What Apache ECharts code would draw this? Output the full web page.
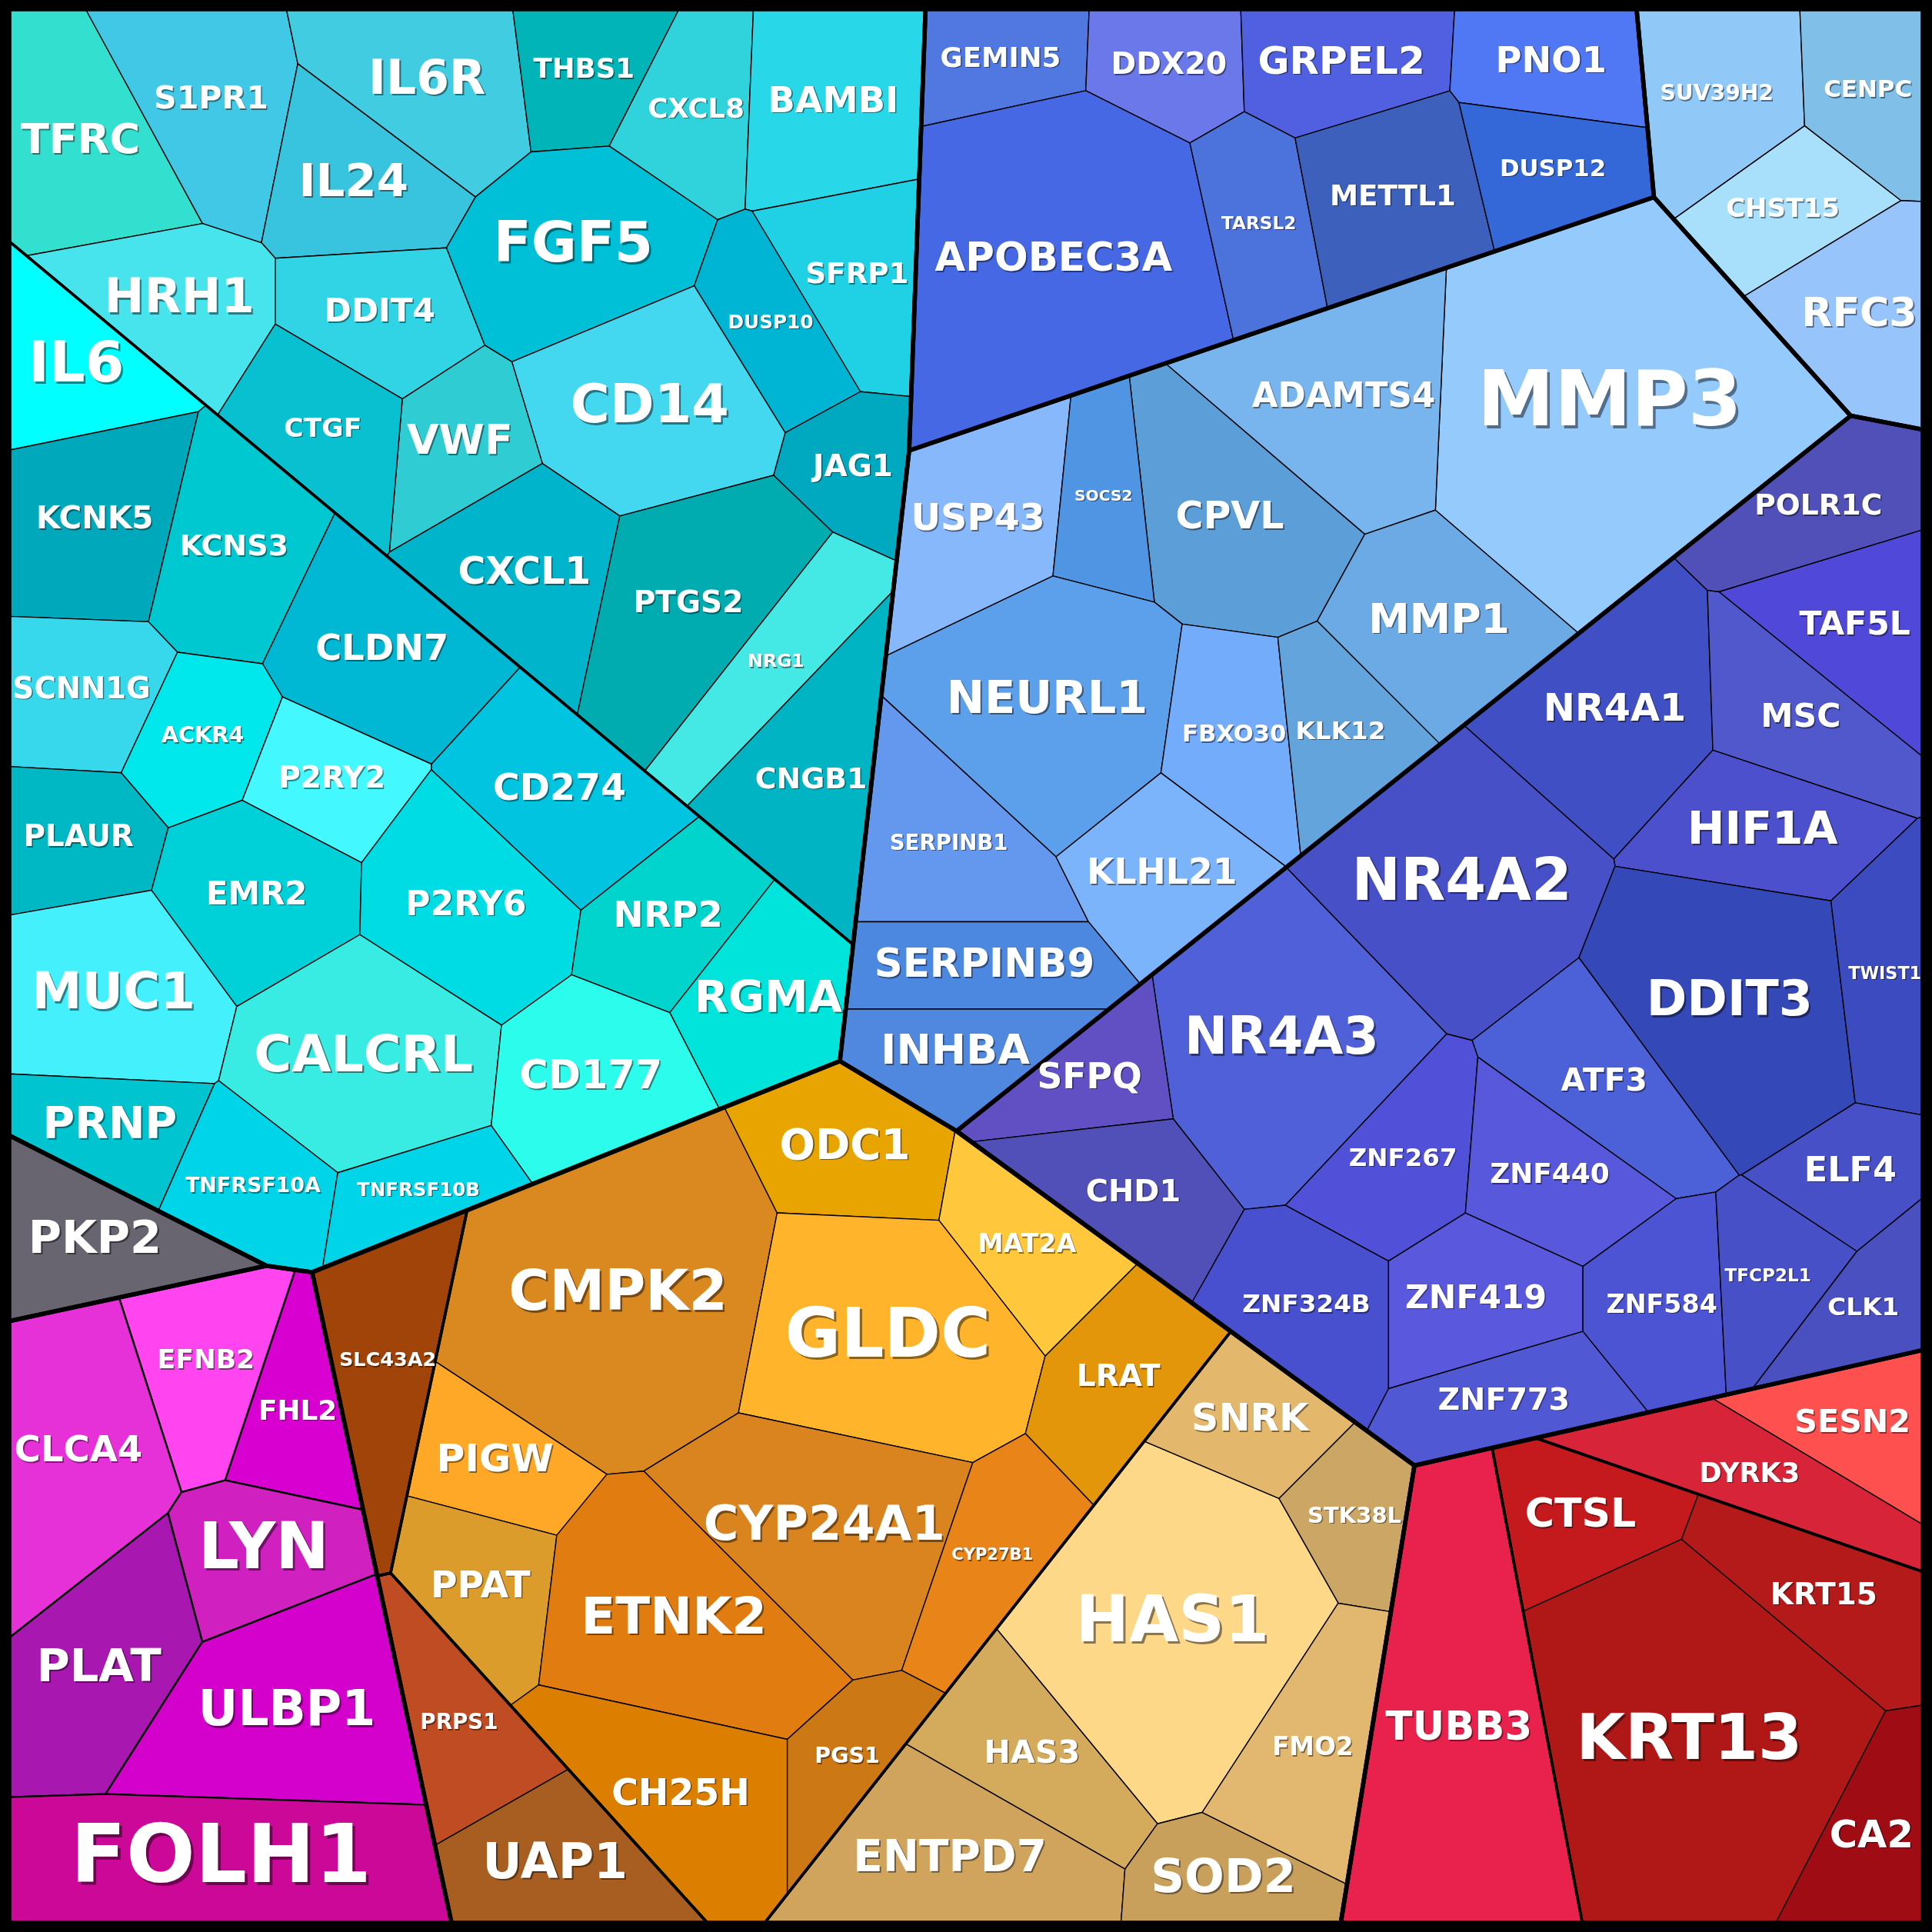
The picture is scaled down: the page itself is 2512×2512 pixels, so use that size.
<!DOCTYPE html>
<html><head><meta charset="utf-8">
<script src="https://cdn.jsdelivr.net/npm/echarts@6/dist/echarts.min.js"></script>
<style>html,body{margin:0;padding:0;background:#000}#c{width:2512px;height:2512px}</style>
</head><body><div id="c"></div><script>
// ---------------- data ----------------
const genes = [
'TFRC','S1PR1','IL6R','THBS1','CXCL8','BAMBI','SFRP1','IL24','HRH1','FGF5','DUSP10','JAG1','CD14','DDIT4','VWF','CTGF','CXCL1','PTGS2','NRG1','CNGB1',
'IL6','KCNK5','KCNS3','SCNN1G','CLDN7','ACKR4','P2RY2','CD274','PLAUR','EMR2','P2RY6','NRP2','MUC1','RGMA','CALCRL','CD177','PRNP','TNFRSF10A','TNFRSF10B',
'PKP2',
'EFNB2','FHL2','CLCA4','LYN','PLAT','ULBP1','FOLH1',
'SLC43A2','PRPS1','UAP1',
'CMPK2','ODC1','MAT2A','GLDC','LRAT','PIGW','CYP24A1','CYP27B1','PPAT','ETNK2','CH25H','PGS1',
'SNRK','STK38L','HAS1','FMO2','HAS3','ENTPD7','SOD2',
'GEMIN5','DDX20','GRPEL2','PNO1','APOBEC3A','TARSL2','METTL1','DUSP12',
'SUV39H2','CENPC','CHST15','RFC3',
'MMP3','ADAMTS4','CPVL','USP43','SOCS2','MMP1','NEURL1','FBXO30','KLK12','SERPINB1','KLHL21','SERPINB9','INHBA',
'POLR1C','TAF5L','NR4A1','MSC','HIF1A','NR4A2','DDIT3','TWIST1','NR4A3','SFPQ','ATF3','ZNF267','ZNF440','ELF4','CHD1','ZNF324B','ZNF419','ZNF584','TFCP2L1','CLK1','ZNF773',
'TUBB3','CTSL','KRT15','KRT13','CA2','DYRK3','SESN2'];

// relative cell size of every gene
const cellArea = [
21.0,20.0,19.4,11.1,13.4,21.0,14.6,16.0,17.0,25.0,11.6,10.2,26.3,14.3,12.2,14.7,19.7,26.4,14.3,21.0,
13.7,19.9,18.9,14.1,22.2,12.0,11.3,20.5,12.4,18.3,21.9,14.3,23.2,16.9,29.0,20.0,11.7,13.4,9.7,
15.6,
15.0,11.4,25.8,14.5,22.8,30.5,34.8,
18.2,14.2,16.6,
55.3,16.7,13.4,36.7,16.5,12.2,32.1,14.9,13.9,32.3,24.2,10.6,
11.8,10.4,48.8,17.9,16.4,24.8,11.7,
10.6,11.3,14.7,13.0,55.0,13.4,19.0,12.6,
17.4,12.6,12.3,16.4,
73.0,27.4,25.5,19.8,10.6,21.6,34.7,15.0,13.0,19.2,16.4,15.2,12.6,
15.6,15.1,26.7,15.8,17.0,37.4,36.0,13.4,38.5,11.1,17.7,15.3,14.9,10.6,16.0,17.7,15.4,15.2,11.4,9.6,13.6,
48.6,13.8,16.7,62.0,12.8,16.0,12.0];

// label score (drives label size)
const labelScore = [
33.8,25.7,38.4,22.2,22.1,28.9,23.3,37.0,38.9,45.0,15.4,24.4,43.6,26.4,33.6,21.6,30.5,24.4,14.7,23.6,
45.7,25.2,23.7,24.1,28.9,17.9,24.3,29.6,24.2,26.1,27.6,29.3,41.1,35.7,41.5,31.8,35.5,16.8,15.3,
36.8,
21.6,22.4,29.1,51.9,36.8,39.6,65.9,
15.9,17.3,39.5,
45.2,34.1,20.7,55.3,24.4,31.4,38.8,13.1,29.4,41.1,29.5,17.8,
30.6,18.1,51.9,20.5,25.8,35.2,38.1,
22.2,24.6,31.3,28.9,32.1,14.5,23.3,19.2,
17.6,19.3,21.1,32.6,
62.8,27.2,30.6,29.8,12.6,33.6,36.8,19.1,20.4,17.2,28.5,32.1,33.8,
23.5,26.5,30.7,26.5,36.3,47.4,39.6,13.9,41.9,28.5,25.4,20.3,22.4,27.8,24.9,20.4,26.5,20.8,14.4,20.4,24.7,
32.0,32.5,24.3,51.4,30.9,21.9,25.7];

const cellColor = [
'#33E0D0','#40C8E6','#42CCE2','#00B4B8','#30D2DC','#28D8E8','#20D0E4','#38C4DE','#48E4EE','#00C0D8','#00B4D4','#00A8C0','#44D8F0','#30D4E4','#30CCD4','#08C0D0','#00B4CC','#00ACB0','#44E8E4','#00B4C4',
'#00FFFF','#00A8BC','#00C8D0','#38D8EC','#00B8D4','#00E8EC','#44F8FF','#00C4E0','#00B8C4','#00D0D8','#00DCE4','#00D4CC','#44F0FC','#00E4DC','#38ECE4','#2CFCEC','#00C4D0','#00D4E8','#00D4E8',
'#686470',
'#FF44F0','#D800D0','#E630D8','#D020C0','#A818B0','#D400CC','#CC0898',
'#A0440A','#C04C24','#A85E20',
'#DA8820','#E8A400','#FFC83C','#FFB42C','#E4960A','#FFA828','#DA8420','#E88418','#DC9C2C','#E07C10','#DC7E00','#CC7814',
'#E4B86C','#CCA664','#FCD888','#E2B870','#D4AA5C','#D0A45C','#C8A05C',
'#5078E0','#6A78EA','#5060E0','#5078F4','#4668E4','#4C72DC','#3C60BC','#3468D8',
'#90C8F8','#80C0E8','#A8E0FC','#98C4FC',
'#94CAFC','#78B4EE','#5C9ED8','#88B8FC','#5094E4','#6CAAE6','#5CA0EC','#74ACFC','#64A4DC','#6498EE','#7CB4FC','#4C88E0','#5088E0',
'#5050B8','#5048D8','#4050C4','#5058CC','#4C50CC','#4850C8','#3448B8','#3C4CC0','#5060D8','#6050C4','#4C60D8','#5050D8','#5858DC','#4850C8','#5050B8','#4850D0','#5A58DC','#4C54D4','#4850C8','#4A50C0','#5058D4',
'#E8224C','#C41A1E','#B41A1A','#B01818','#A00C14','#D82438','#FF5050'];

function rep(name, n){ return new Array(n).fill(name); }
const subgroupOf = [].concat(
  rep('cyanA',20), rep('cyanB',19), rep('pkp2',1), rep('magenta',7),
  rep('slc',1), rep('prps',2), rep('orangeMain',12), rep('tan',7),
  rep('darkBlue',8), rep('lightA',4), rep('lightB',13), rep('indigo',21),
  rep('tubb',1), rep('krt',4), rep('dyrk',2));
const SUBGROUP_PARENT = {cyanA:'cyan',cyanB:'cyan',pkp2:'pkp2',magenta:'magenta',slc:'orange',prps:'orange',orangeMain:'orange',tan:'orange',darkBlue:'darkBlue',lightA:'lightA',lightB:'lightB',indigo:'indigo',tubb:'red',krt:'red',dyrk:'red'};
const TOP = ['cyan','pkp2','magenta','orange','darkBlue','lightA','lightB','indigo','red'];

// ---------------- layout sites of the Voronoi treemap (not data) ----------------
const topSiteX = [330,147,226,590,922,998,938,978,1118];
const topSiteY = [430,791,1158,1080,452,445,499,549,1165];
const subSite = {cyanA:[480,300],cyanB:[230,600],slc:[300,1120],prps:[361,1393],orangeMain:[594,1182],tan:[830,1368],tubb:[1180,1380],krt:[1380,1342],dyrk:[1429,1200]};
const seedX = [
89,177,345,462,560,680,705,300,115,475,630,690,525,310,375,257,430,570,617,689,
54,80,185,75,310,165,255,452,68,210,375,535,90,615,290,485,85,205,330,
78,
170,245,30,215,140,250,195,
310,372,445,
520,680,790,675,950,405,640,795,380,545,510,690,
1015,1095,945,1068,830,770,1000,
835,955,1100,1270,872,1030,1135,1260,
1395,1518,1452,1510,
1320,1100,1010,800,920,1165,880,985,1080,700,940,700,700,
1475,1506,1310,1455,1420,1185,1400,1525,1045,895,1305,1130,1255,1495,905,1065,1205,1335,1432,1800,1230,
1185,1290,1485,1380,1515,1440,1500];
const seedY = [
123,75,40,25,75,80,210,100,265,200,255,365,320,265,365,355,460,490,527,596,
297,425,450,555,510,597,632,640,680,718,722,745,806,808,855,875,912,965,985,
1005,
1115,1140,1160,1280,1300,1370,3000,
1100,1390,1518,
1020,940,960,1050,1120,1195,1215,1268,1290,1310,1470,1470,
1155,1235,1320,1400,1415,1520,1537,
45,50,45,55,215,180,160,130,
85,80,165,260,
325,315,420,418,430,505,585,600,590,780,660,860,940,
410,512,580,575,680,720,805,790,855,877,875,935,945,955,965,1055,1055,1055,1050,1330,1140,
1390,1232,1305,1430,1500,1220,1120];

// ---------------- power-diagram (Voronoi treemap) computation ----------------
const U = 1568, M = 7.5;
const container = [[M,M],[U-M,M],[U-M,U-M],[M,U-M]];

function polyArea(p){ let s=0; for(let k=0;k<p.length;k++){const a=p[k],b=p[(k+1)%p.length]; s+=a[0]*b[1]-b[0]*a[1];} return s/2; }
function polyCentroid(p){ let s=0,cx=0,cy=0; for(let k=0;k<p.length;k++){const a=p[k],b=p[(k+1)%p.length]; const cr=a[0]*b[1]-b[0]*a[1]; s+=cr; cx+=(a[0]+b[0])*cr; cy+=(a[1]+b[1])*cr;} if(Math.abs(s)<1e-9){let x=0,y=0;p.forEach(q=>{x+=q[0];y+=q[1];});return [x/p.length,y/p.length];} return [cx/(3*s), cy/(3*s)]; }

function clipTagged(poly,a,b,c,tag){
  const out=[]; const n=poly.length;
  for(let k=0;k<n;k++){
    const P=poly[k], Q=poly[(k+1)%n];
    const fp=a*P[0]+b*P[1]-c, fq=a*Q[0]+b*Q[1]-c;
    if(fp<=0){
      if(fq>0){
        if(fp===0){ out.push([P[0],P[1],tag]); }
        else { out.push(P); const t=fp/(fp-fq); out.push([P[0]+t*(Q[0]-P[0]),P[1]+t*(Q[1]-P[1]),tag]); }
      } else out.push(P);
    } else if(fq<0){
      const t=fp/(fp-fq); out.push([P[0]+t*(Q[0]-P[0]),P[1]+t*(Q[1]-P[1]),P[2]]);
    }
  }
  return out;
}
function powerCells(cont,S,W){
  const n=S.length, cells=[];
  for(let i=0;i<n;i++){
    let poly=cont.map(p=>[p[0],p[1],-1]);
    const xi=S[i][0], yi=S[i][1], ni=xi*xi+yi*yi;
    for(let j=0;j<n&&poly.length>=3;j++){
      if(j===i) continue;
      const xj=S[j][0], yj=S[j][1];
      poly=clipTagged(poly,2*(xj-xi),2*(yj-yi),(xj*xj+yj*yj)-ni-W[j]+W[i],j);
    }
    cells.push(poly.length>=3?poly:[]);
  }
  return cells;
}
// weights are fitted so that every cell reaches its share of the parent's area
function fitLevel(cont, vals, seeds, iters){
  const n=vals.length;
  if(n===1) return [cont.map(p=>[p[0],p[1]])];
  const A=Math.abs(polyArea(cont)); const tot=vals.reduce((s,v)=>s+v,0);
  const T=vals.map(v=>A*v/tot);
  const S=seeds.map(s=>[s[0],s[1]]); const W=new Array(n).fill(0);
  for(let it=0;it<iters;it++){
    const cells=powerCells(cont,S,W);
    const dW=new Array(n).fill(0);
    for(let i=0;i<n;i++){
      const poly=cells[i];
      if(poly.length<3){ dW[i]=0.3*T[i]; continue; }
      const ar=Math.abs(polyArea(poly));
      let D=0;
      for(let k=0;k<poly.length;k++){
        const P=poly[k], Q=poly[(k+1)%poly.length];
        if(P[2]>=0){ const j=P[2]; const L=Math.hypot(Q[0]-P[0],Q[1]-P[1]); const d=Math.hypot(S[j][0]-S[i][0],S[j][1]-S[i][1])||1; D+=L/(2*d); }
      }
      dW[i]=0.5*(T[i]-ar)/Math.max(D,0.05);
    }
    for(let i=0;i<n;i++) W[i]+=dW[i];
  }
  return powerCells(cont,S,W).map(p=>p.map(q=>[q[0],q[1]]));
}

const leafIdx={};
genes.forEach((g,i)=>{ (leafIdx[subgroupOf[i]]=leafIdx[subgroupOf[i]]||[]).push(i); });
const subNames=Object.keys(SUBGROUP_PARENT);
function sumArea(idxs){ return idxs.reduce((s,i)=>s+cellArea[i],0); }

const topVals=TOP.map(t=>sumArea(genes.map((g,i)=>i).filter(i=>SUBGROUP_PARENT[subgroupOf[i]]===t)));
const topCells=fitLevel(container, topVals, TOP.map((t,k)=>[topSiteX[k],topSiteY[k]]), 600);
const subCells={}; const subCount={};
TOP.forEach((t,ti)=>{
  const subs=subNames.filter(s=>SUBGROUP_PARENT[s]===t);
  subCount[t]=subs.length;
  const cells=fitLevel(topCells[ti], subs.map(s=>sumArea(leafIdx[s])), subs.map(s=>subSite[s]||[0,0]), 500);
  subs.forEach((s,k)=>{ subCells[s]=cells[k]; });
});
const leafCells=new Array(genes.length);
subNames.forEach(s=>{
  const idxs=leafIdx[s];
  const cells=fitLevel(subCells[s], idxs.map(i=>cellArea[i]), idxs.map(i=>[seedX[i],seedY[i]]), 700);
  idxs.forEach((i,k)=>{ leafCells[i]=cells[k]; });
});

const outlines=[];
subNames.forEach(s=>{ if(subCount[SUBGROUP_PARENT[s]]>1) outlines.push({poly:subCells[s], w:3.6}); });
TOP.forEach((t,ti)=>outlines.push({poly:topCells[ti], w:5.6}));

// ---------------- chart ----------------
const PX = 2512/U;
const chart=echarts.init(document.getElementById('c'),null,{renderer:'canvas',width:2512,height:2512});
chart.setOption({
  backgroundColor:'#000',
  animation:false,
  grid:{left:0,right:0,top:0,bottom:0},
  xAxis:{type:'value',min:0,max:U,show:false},
  yAxis:{type:'value',min:0,max:U,inverse:true,show:false},
  series:[
    {type:'custom',name:'cells',silent:true,z:1,data:genes.map((g,i)=>[i]),
     renderItem:(params,api)=>{
       const i=params.dataIndex; const poly=leafCells[i];
       if(!poly||poly.length<3) return null;
       return {type:'polygon',shape:{points:poly.map(p=>api.coord([p[0],p[1]]))},
         style:{fill:cellColor[i],stroke:'#000',lineWidth:subgroupOf[i]==='magenta'?2.4:1.4,lineJoin:'round'}};
     }},
    {type:'custom',name:'groups',silent:true,z:2,data:outlines.map((o,i)=>[i]),
     renderItem:(params,api)=>{
       const o=outlines[params.dataIndex];
       if(!o.poly||o.poly.length<3) return null;
       return {type:'polygon',shape:{points:o.poly.map(p=>api.coord([p[0],p[1]]))},
         style:{fill:'rgba(0,0,0,0)',stroke:'#000',lineWidth:o.w,lineJoin:'round'}};
     }},
    {type:'custom',name:'labels',silent:true,z:3,data:genes.map((g,i)=>[i]),
     renderItem:(params,api)=>{
       const i=params.dataIndex; const poly=leafCells[i];
       if(!poly||poly.length<3) return null;
       const c=api.coord(polyCentroid(poly));
       const fs=labelScore[i]*PX;
       const off=Math.max(1.5,fs*0.035);
       const font='bold '+fs.toFixed(1)+'px "DejaVu Sans", sans-serif';
       return {type:'group',children:[
         {type:'text',x:c[0]+off,y:c[1]+off,style:{text:genes[i],fill:'rgba(0,0,0,0.45)',font:font,align:'center',verticalAlign:'middle'}},
         {type:'text',x:c[0],y:c[1],style:{text:genes[i],fill:'#ffffff',font:font,align:'center',verticalAlign:'middle'}}
       ]};
     }}
  ]
});
</script></body></html>
